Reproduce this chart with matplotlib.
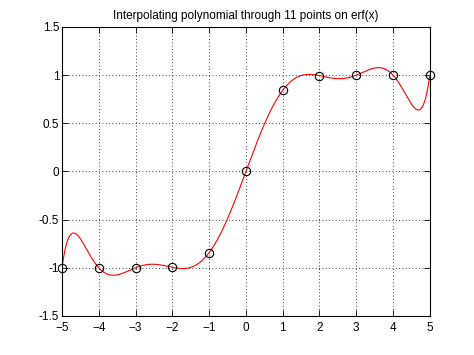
import numpy as np
import matplotlib
matplotlib.use("Agg")
import matplotlib.pyplot as plt

# sample points on erf(x)
x_pts = [-5, -4, -3, -2, -1, 0, 1, 2, 3, 4, 5]
y_pts = [-1.0, -1.0, -1.0, -0.9953, -0.8427, 0.0, 0.8427, 0.9953, 1.0, 1.0, 1.0]

xticks = [-5, -4, -3, -2, -1, 0, 1, 2, 3, 4, 5]
yticks = [-1.5, -1, -0.5, 0, 0.5, 1, 1.5]
yticklabels = ['-1.5', '-1', '-0.5', '0', '0.5', '1', '1.5']

# degree-10 interpolating polynomial through the points
coef = np.polyfit(x_pts, y_pts, len(x_pts) - 1)
xs = np.linspace(-5, 5, 400)
ys = np.polyval(coef, xs)

plt.rcParams['font.family'] = ['Liberation Sans', 'DejaVu Sans']

fig = plt.figure(figsize=(4.74, 3.55), dpi=100)
ax = fig.add_axes([0.1308, 0.110, 0.776, 0.814])

ax.plot(xs, ys, color='red', linewidth=0.8)
ax.plot(x_pts, y_pts, 'o', markerfacecolor='none', markeredgecolor='black',
        markersize=6, markeredgewidth=0.8, clip_on=False, zorder=3)

ax.set_xlim(-5, 5)
ax.set_ylim(-1.5, 1.5)
ax.set_xticks(xticks)
ax.set_yticks(yticks)
ax.set_yticklabels(yticklabels)
ax.grid(True, linestyle=(0, (1, 3)), color='black', linewidth=0.6)
ax.tick_params(direction='in', top=True, right=True, labelsize=8.5, length=4, width=0.6)
ax.tick_params(axis='x', pad=4)
ax.tick_params(axis='y', pad=2)
for lbl in ax.get_yticklabels():
    lbl.set_verticalalignment('center_baseline')
for s in ax.spines.values():
    s.set_linewidth(0.8)

ax.set_title('Interpolating polynomial through 11 points on erf(x)', fontsize=8.5, pad=6)

fig.savefig('out.png', dpi=100)
